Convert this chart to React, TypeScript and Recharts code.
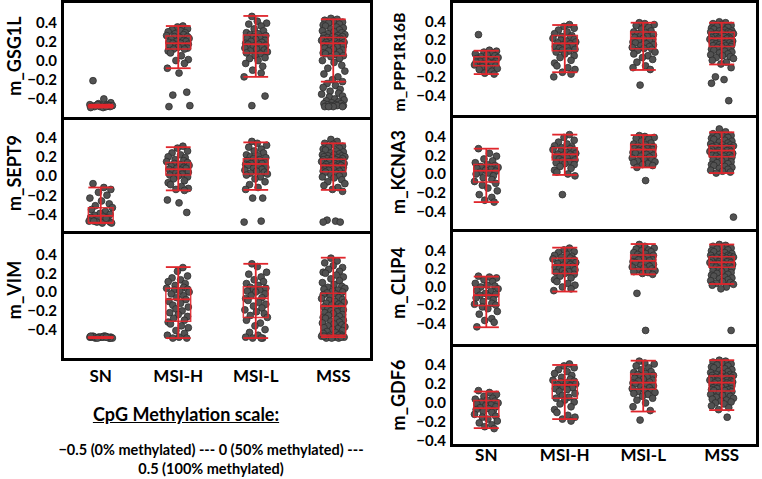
import React from 'react';
import { ComposedChart, Scatter, XAxis, YAxis, ReferenceLine, ReferenceArea } from 'recharts';

const CATEGORIES = ['SN', 'MSI-H', 'MSI-L', 'MSS'];
const Y_TICKS = [-0.4, -0.2, 0, 0.2, 0.4];
const JITTER = [-0.1, 0.04, 0.13, -0.03, 0.08, -0.14, 0.01, 0.11, -0.07, 0.15, -0.12, 0.06, -0.01, 0.12, -0.08, 0.03, -0.13, 0.09, -0.04, 0.07, -0.15, 0.12, -0.05, 0.02, 0.14, -0.09, 0.07, -0.02, 0.1, -0.12, 0.03, -0.07, 0.13, -0.03, 0.05, -0.11, 0.0, 0.12, -0.06, 0.08, -0.13];

// box stats per group: [lowWhisker, q1, median, q3, highWhisker]
const GSG1L_BOX = [[-0.49, -0.48, -0.475, -0.47, -0.46], [-0.08, 0.12, 0.18, 0.255, 0.36], [-0.17, 0.08, 0.17, 0.266, 0.465], [-0.22, 0.05, 0.18, 0.24, 0.43]];
const GSG1L_PTS = [
  [-0.21, -0.4, -0.44, -0.45, -0.46, -0.46, -0.47, -0.47, -0.47, -0.47, -0.48, -0.48, -0.48, -0.48, -0.48, -0.49, -0.49, -0.47, -0.46, -0.48],
  [0.36, 0.35, 0.33, 0.32, 0.31, 0.3, 0.29, 0.28, 0.27, 0.26, 0.25, 0.25, 0.24, 0.23, 0.22, 0.21, 0.2, 0.2, 0.19, 0.18, 0.18, 0.17, 0.16, 0.15, 0.15, 0.14, 0.13, 0.12, 0.12, 0.1, 0.08, 0.05, 0.01, 0.0, -0.03, -0.08, -0.13, -0.33, -0.36, -0.47, -0.48],
  [0.46, 0.41, 0.39, 0.38, 0.36, 0.33, 0.31, 0.29, 0.28, 0.27, 0.26, 0.25, 0.24, 0.23, 0.22, 0.21, 0.2, 0.19, 0.18, 0.17, 0.17, 0.16, 0.15, 0.14, 0.13, 0.12, 0.11, 0.1, 0.09, 0.08, 0.07, 0.05, 0.03, 0.02, 0.0, -0.03, -0.06, -0.1, -0.13, -0.17, -0.37, -0.47],
  [0.44, 0.43, 0.42, 0.41, 0.4, 0.39, 0.38, 0.37, 0.36, 0.35, 0.34, 0.33, 0.32, 0.31, 0.3, 0.29, 0.28, 0.27, 0.26, 0.26, 0.25, 0.25, 0.24, 0.24, 0.23, 0.23, 0.22, 0.22, 0.21, 0.21, 0.2, 0.2, 0.19, 0.19, 0.18, 0.18, 0.17, 0.17, 0.16, 0.16, 0.15, 0.15, 0.14, 0.13, 0.12, 0.11, 0.1, 0.09, 0.08, 0.07, 0.06, 0.05, 0.04, 0.02, 0.0, -0.02, -0.05, -0.08, -0.11, -0.14, -0.17, -0.2, -0.22, -0.24, -0.26, -0.28, -0.3, -0.32, -0.34, -0.35, -0.37, -0.38, -0.4, -0.41, -0.42, -0.43, -0.44, -0.45, -0.45, -0.46, -0.46, -0.47, -0.47, -0.47, -0.48, -0.48, -0.48, -0.48],
];

const SEPT9_BOX = [[-0.49, -0.485, -0.415, -0.33, -0.12], [-0.15, 0.01, 0.07, 0.14, 0.3], [-0.145, 0.02, 0.125, 0.18, 0.35], [-0.145, 0.045, 0.11, 0.175, 0.34]];
const SEPT9_PTS = [
  [-0.08, -0.12, -0.14, -0.17, -0.2, -0.23, -0.26, -0.29, -0.31, -0.33, -0.35, -0.37, -0.39, -0.4, -0.41, -0.42, -0.43, -0.44, -0.45, -0.46, -0.47, -0.48, -0.48, -0.49, -0.49, -0.47, -0.44],
  [0.31, 0.29, 0.26, 0.24, 0.22, 0.2, 0.19, 0.17, 0.16, 0.15, 0.14, 0.13, 0.12, 0.11, 0.1, 0.09, 0.08, 0.08, 0.07, 0.06, 0.05, 0.04, 0.03, 0.02, 0.01, 0.0, -0.01, -0.03, -0.05, -0.07, -0.09, -0.11, -0.13, -0.14, -0.15, -0.25, -0.28, -0.38],
  [0.36, 0.34, 0.32, 0.3, 0.28, 0.26, 0.24, 0.22, 0.21, 0.2, 0.19, 0.18, 0.17, 0.16, 0.15, 0.14, 0.13, 0.13, 0.12, 0.11, 0.1, 0.09, 0.08, 0.07, 0.06, 0.05, 0.04, 0.03, 0.02, 0.01, -0.01, -0.03, -0.06, -0.09, -0.12, -0.14, -0.23, -0.23, -0.47, -0.48],
  [0.38, 0.36, 0.34, 0.33, 0.31, 0.3, 0.29, 0.28, 0.27, 0.26, 0.25, 0.24, 0.23, 0.22, 0.22, 0.21, 0.21, 0.2, 0.2, 0.19, 0.19, 0.18, 0.18, 0.17, 0.17, 0.16, 0.16, 0.15, 0.15, 0.14, 0.14, 0.13, 0.13, 0.12, 0.12, 0.11, 0.11, 0.1, 0.1, 0.09, 0.09, 0.08, 0.08, 0.07, 0.07, 0.06, 0.06, 0.05, 0.05, 0.04, 0.03, 0.02, 0.01, 0.0, -0.01, -0.02, -0.04, -0.06, -0.08, -0.1, -0.12, -0.14, -0.16, -0.46, -0.47, -0.48, -0.48],
];

const VIM_BOX = [[-0.49, -0.485, -0.485, -0.48, -0.48], [-0.49, -0.31, -0.078, 0.04, 0.265], [-0.49, -0.27, -0.067, 0.057, 0.3], [-0.48, -0.46, -0.15, -0.014, 0.365]];
const VIM_PTS = [
  [-0.47, -0.47, -0.48, -0.48, -0.48, -0.48, -0.48, -0.49, -0.49, -0.49, -0.48, -0.47, -0.48, -0.49, -0.48, -0.48, -0.47, -0.48, -0.49, -0.48],
  [0.26, 0.22, 0.17, 0.15, 0.13, 0.11, 0.09, 0.07, 0.05, 0.04, 0.03, 0.02, 0.01, 0.0, -0.02, -0.04, -0.06, -0.08, -0.1, -0.12, -0.14, -0.16, -0.18, -0.2, -0.22, -0.24, -0.26, -0.28, -0.3, -0.32, -0.34, -0.36, -0.38, -0.41, -0.44, -0.46, -0.48, -0.49, -0.49],
  [0.3, 0.27, 0.21, 0.19, 0.16, 0.13, 0.11, 0.09, 0.07, 0.05, 0.04, 0.03, 0.02, 0.01, 0.0, -0.02, -0.04, -0.06, -0.07, -0.09, -0.11, -0.13, -0.15, -0.17, -0.19, -0.21, -0.23, -0.25, -0.27, -0.3, -0.33, -0.36, -0.4, -0.43, -0.46, -0.48, -0.49, -0.49, -0.49],
  [0.36, 0.33, 0.31, 0.28, 0.26, 0.24, 0.22, 0.21, 0.2, 0.18, 0.16, 0.14, 0.12, 0.1, 0.08, 0.06, 0.05, 0.04, 0.03, 0.02, 0.01, 0.0, -0.01, -0.02, -0.03, -0.04, -0.05, -0.06, -0.07, -0.08, -0.09, -0.1, -0.11, -0.12, -0.13, -0.14, -0.15, -0.16, -0.17, -0.18, -0.19, -0.2, -0.21, -0.22, -0.23, -0.24, -0.25, -0.26, -0.27, -0.28, -0.29, -0.3, -0.31, -0.32, -0.33, -0.34, -0.35, -0.36, -0.37, -0.38, -0.39, -0.4, -0.41, -0.42, -0.43, -0.44, -0.45, -0.46, -0.46, -0.47, -0.47, -0.48, -0.48, -0.48, -0.49, -0.49, -0.49, -0.48, -0.47],
];

const PPP1R16B_BOX = [[-0.17, -0.08, -0.035, 0.02, 0.085], [-0.15, 0.085, 0.165, 0.25, 0.365], [-0.125, 0.107, 0.22, 0.29, 0.39], [-0.065, 0.13, 0.22, 0.285, 0.39]];
const PPP1R16B_PTS = [
  [0.26, 0.09, 0.08, 0.07, 0.06, 0.05, 0.04, 0.03, 0.02, 0.01, 0.0, -0.01, -0.02, -0.03, -0.03, -0.04, -0.04, -0.05, -0.06, -0.06, -0.07, -0.08, -0.09, -0.1, -0.11, -0.12, -0.14, -0.16, -0.17],
  [0.37, 0.35, 0.33, 0.31, 0.29, 0.27, 0.25, 0.24, 0.23, 0.22, 0.21, 0.2, 0.19, 0.18, 0.17, 0.16, 0.15, 0.14, 0.13, 0.12, 0.11, 0.1, 0.09, 0.08, 0.07, 0.05, 0.03, 0.01, -0.02, -0.05, -0.08, -0.1, -0.12, -0.15, -0.17, -0.2],
  [0.39, 0.38, 0.37, 0.36, 0.34, 0.32, 0.3, 0.29, 0.28, 0.27, 0.26, 0.25, 0.24, 0.23, 0.22, 0.21, 0.2, 0.19, 0.18, 0.17, 0.16, 0.15, 0.14, 0.13, 0.12, 0.11, 0.1, 0.09, 0.07, 0.05, 0.03, 0.01, -0.01, -0.04, -0.08, -0.1, -0.12, -0.29],
  [0.4, 0.39, 0.38, 0.37, 0.36, 0.35, 0.34, 0.33, 0.32, 0.31, 0.3, 0.3, 0.29, 0.29, 0.28, 0.28, 0.27, 0.27, 0.26, 0.26, 0.25, 0.25, 0.24, 0.24, 0.23, 0.23, 0.22, 0.22, 0.21, 0.21, 0.2, 0.2, 0.19, 0.19, 0.18, 0.18, 0.17, 0.17, 0.16, 0.16, 0.15, 0.15, 0.14, 0.14, 0.13, 0.13, 0.12, 0.11, 0.1, 0.09, 0.08, 0.07, 0.06, 0.05, 0.04, 0.03, 0.02, 0.01, 0.0, -0.02, -0.04, -0.06, -0.1, -0.2, -0.23, -0.27, -0.46],
];

const KCNA3_BOX = [[-0.3, -0.085, 0.035, 0.1, 0.27], [-0.01, 0.15, 0.21, 0.28, 0.42], [0.07, 0.185, 0.26, 0.315, 0.415], [0.01, 0.185, 0.25, 0.3, 0.445]];
const KCNA3_PTS = [
  [0.27, 0.22, 0.19, 0.16, 0.14, 0.12, 0.1, 0.09, 0.08, 0.07, 0.06, 0.05, 0.04, 0.03, 0.02, 0.01, 0.0, -0.02, -0.04, -0.06, -0.08, -0.1, -0.12, -0.15, -0.18, -0.22, -0.25, -0.28, -0.3],
  [0.42, 0.39, 0.36, 0.34, 0.32, 0.3, 0.29, 0.28, 0.27, 0.26, 0.25, 0.24, 0.23, 0.22, 0.21, 0.21, 0.2, 0.19, 0.18, 0.17, 0.16, 0.15, 0.14, 0.13, 0.12, 0.11, 0.1, 0.08, 0.06, 0.04, 0.02, 0.0, -0.02, -0.22],
  [0.41, 0.4, 0.39, 0.38, 0.37, 0.35, 0.33, 0.32, 0.31, 0.3, 0.29, 0.28, 0.27, 0.27, 0.26, 0.26, 0.25, 0.24, 0.23, 0.22, 0.21, 0.2, 0.19, 0.18, 0.17, 0.16, 0.15, 0.14, 0.13, 0.12, 0.11, 0.1, 0.09, 0.07, -0.07],
  [0.48, 0.45, 0.43, 0.42, 0.41, 0.4, 0.39, 0.38, 0.37, 0.36, 0.35, 0.34, 0.33, 0.32, 0.31, 0.31, 0.3, 0.3, 0.29, 0.29, 0.28, 0.28, 0.27, 0.27, 0.26, 0.26, 0.25, 0.25, 0.24, 0.24, 0.23, 0.23, 0.22, 0.22, 0.21, 0.21, 0.2, 0.2, 0.19, 0.19, 0.18, 0.17, 0.16, 0.15, 0.14, 0.13, 0.12, 0.11, 0.1, 0.09, 0.08, 0.07, 0.06, 0.05, 0.04, 0.03, 0.02, 0.01, -0.46],
];

const CLIP4_BOX = [[-0.445, -0.205, -0.09, 0.0, 0.115], [-0.05, 0.15, 0.243, 0.317, 0.435], [0.14, 0.2, 0.29, 0.354, 0.475], [0.033, 0.218, 0.273, 0.335, 0.47]];
const CLIP4_PTS = [
  [0.12, 0.11, 0.1, 0.08, 0.06, 0.04, 0.02, 0.01, 0.0, -0.02, -0.04, -0.05, -0.07, -0.08, -0.09, -0.1, -0.12, -0.14, -0.16, -0.18, -0.19, -0.2, -0.22, -0.24, -0.27, -0.3, -0.35, -0.37, -0.39, -0.44],
  [0.43, 0.41, 0.39, 0.38, 0.36, 0.35, 0.34, 0.33, 0.32, 0.31, 0.3, 0.29, 0.28, 0.27, 0.26, 0.25, 0.24, 0.23, 0.22, 0.21, 0.2, 0.19, 0.18, 0.17, 0.16, 0.15, 0.14, 0.12, 0.1, 0.08, 0.06, 0.04, 0.02, 0.0, -0.02, -0.04],
  [0.47, 0.45, 0.43, 0.42, 0.41, 0.4, 0.39, 0.38, 0.37, 0.36, 0.35, 0.34, 0.33, 0.32, 0.31, 0.3, 0.3, 0.29, 0.28, 0.27, 0.26, 0.25, 0.24, 0.23, 0.22, 0.21, 0.2, 0.19, 0.18, 0.17, 0.16, 0.15, 0.14, -0.07, -0.48],
  [0.47, 0.46, 0.45, 0.44, 0.43, 0.42, 0.41, 0.4, 0.39, 0.38, 0.37, 0.36, 0.35, 0.35, 0.34, 0.34, 0.33, 0.33, 0.32, 0.32, 0.31, 0.31, 0.3, 0.3, 0.29, 0.29, 0.28, 0.28, 0.27, 0.27, 0.26, 0.26, 0.25, 0.25, 0.24, 0.24, 0.23, 0.23, 0.22, 0.22, 0.21, 0.2, 0.19, 0.18, 0.17, 0.16, 0.15, 0.14, 0.13, 0.12, 0.11, 0.1, 0.09, 0.08, 0.07, 0.06, 0.05, 0.04, 0.03, 0.02, 0.0, -0.02, -0.48],
];

const GDF6_BOX = [[-0.265, -0.145, -0.055, 0.025, 0.12], [-0.17, 0.05, 0.19, 0.24, 0.4], [-0.09, 0.144, 0.214, 0.305, 0.445], [-0.075, 0.125, 0.214, 0.285, 0.45]];
const GDF6_PTS = [
  [0.13, 0.11, 0.09, 0.07, 0.05, 0.04, 0.03, 0.02, 0.01, 0.0, -0.01, -0.02, -0.03, -0.04, -0.05, -0.06, -0.07, -0.08, -0.09, -0.1, -0.12, -0.14, -0.15, -0.17, -0.19, -0.21, -0.23, -0.25, -0.27],
  [0.41, 0.39, 0.37, 0.35, 0.33, 0.31, 0.29, 0.27, 0.25, 0.24, 0.23, 0.22, 0.21, 0.2, 0.19, 0.18, 0.17, 0.16, 0.15, 0.14, 0.12, 0.1, 0.08, 0.06, 0.05, 0.03, 0.01, -0.01, -0.04, -0.07, -0.1, -0.13, -0.15, -0.17, -0.19],
  [0.44, 0.42, 0.41, 0.39, 0.37, 0.35, 0.33, 0.32, 0.31, 0.3, 0.29, 0.28, 0.27, 0.26, 0.25, 0.24, 0.23, 0.22, 0.21, 0.2, 0.19, 0.18, 0.17, 0.16, 0.15, 0.14, 0.13, 0.12, 0.11, 0.1, 0.09, 0.07, 0.05, 0.03, 0.0, -0.04, -0.08, -0.18],
  [0.45, 0.44, 0.43, 0.42, 0.41, 0.4, 0.39, 0.38, 0.37, 0.36, 0.35, 0.34, 0.33, 0.32, 0.31, 0.3, 0.3, 0.29, 0.29, 0.28, 0.28, 0.27, 0.27, 0.26, 0.26, 0.25, 0.25, 0.24, 0.24, 0.23, 0.23, 0.22, 0.22, 0.21, 0.21, 0.2, 0.2, 0.19, 0.19, 0.18, 0.18, 0.17, 0.17, 0.16, 0.16, 0.15, 0.15, 0.14, 0.14, 0.13, 0.13, 0.12, 0.11, 0.1, 0.09, 0.08, 0.07, 0.06, 0.05, 0.04, 0.03, 0.02, 0.01, 0.0, -0.01, -0.03, -0.05, -0.07, -0.15],
];

const FONT = 'Lato, "Open Sans", sans-serif';
const RED = '#e0262c';
const HALF = 0.16;

const fmt = (v: number) => (v < 0 ? '\u2212' : '') + Math.abs(v).toFixed(1);

const Dot = (p: any) => (
  <circle cx={p.cx} cy={p.cy} r={3.4} fill="#525252" stroke="#2f2f2f" strokeWidth={0.8} />
);

function Panel(props: any) {
  const { name, box, pts, left, top, width, height, yw, margin, domain, xDomain, showX, xTickMargin, labelX, labelY, labelSize } = props;
  const data: { x: number; y: number }[] = [];
  pts.forEach((arr: number[], g: number) =>
    arr.forEach((y, i) => data.push({ x: g + JITTER[(i + g * 11) % JITTER.length], y }))
  );
  const labelFn = () => (
    <text
      x={labelX}
      y={labelY}
      transform={`rotate(-90 ${labelX} ${labelY})`}
      textAnchor="middle"
      dominantBaseline="central"
      fontSize={labelSize}
      fontWeight={700}
      fill="#000"
      fontFamily={FONT}
    >
      {name}
    </text>
  );
  const axes = (overlay: boolean) => [
    <XAxis
      key="x"
      type="number"
      dataKey="x"
      domain={xDomain}
      allowDataOverflow
      ticks={[0, 1, 2, 3]}
      tickFormatter={(i: number) => CATEGORIES[i]}
      hide={!showX}
      height={30}
      axisLine={false}
      tickLine={false}
      tickSize={0}
      tickMargin={xTickMargin}
      tick={overlay ? false : { fontSize: 17, fontWeight: 700, fill: '#000', fontFamily: FONT }}
    />,
    <YAxis
      key="y"
      type="number"
      dataKey="y"
      domain={domain}
      allowDataOverflow
      ticks={Y_TICKS}
      tickFormatter={fmt}
      width={yw}
      axisLine={false}
      tickLine={false}
      tickSize={0}
      tickMargin={5}
      interval={0}
      tick={overlay ? false : { fontSize: 15, fontWeight: 700, fill: '#000', fontFamily: FONT }}
      label={overlay ? undefined : labelFn}
    />,
  ];
  return (
    <div style={{ position: 'absolute', left, top, width, height }}>
      <div style={{ position: 'absolute', left: 0, top: 0 }}>
        <ComposedChart width={width} height={height} margin={margin}>
          {axes(false)}
          <Scatter data={data} dataKey="y" shape={Dot} isAnimationActive={false} />
        </ComposedChart>
      </div>
      <div style={{ position: 'absolute', left: 0, top: 0 }}>
        <ComposedChart width={width} height={height} margin={margin}>
          {axes(true)}
          {box.map((b: number[], g: number) => (
            <React.Fragment key={g}>
              <ReferenceLine segment={[{ x: g, y: b[0] }, { x: g, y: b[4] }]} stroke={RED} strokeWidth={1.8} />
              <ReferenceLine segment={[{ x: g - HALF, y: b[0] }, { x: g + HALF, y: b[0] }]} stroke={RED} strokeWidth={1.8} />
              <ReferenceLine segment={[{ x: g - HALF, y: b[4] }, { x: g + HALF, y: b[4] }]} stroke={RED} strokeWidth={1.8} />
              <ReferenceArea x1={g - HALF} x2={g + HALF} y1={b[1]} y2={b[3]} fill="none" fillOpacity={0} stroke={RED} strokeWidth={1.5} strokeOpacity={0.9} />
              <ReferenceLine segment={[{ x: g - HALF, y: b[2] }, { x: g + HALF, y: b[2] }]} stroke={RED} strokeWidth={1.8} />
            </React.Fragment>
          ))}
        </ComposedChart>
      </div>
    </div>
  );
}

const LX = [-0.5, 3.5];
const RX = [-0.45, 3.45];

const PANELS = [
  { name: 'm_GSG1L', box: GSG1L_BOX, pts: GSG1L_PTS, left: 0, top: 0, width: 375, height: 118, yw: 62, margin: { top: 3, right: 3, bottom: 2, left: 0 }, domain: [-0.578, 0.6], xDomain: LX, showX: false, xTickMargin: 0, labelX: 14, labelY: 56, labelSize: 18 },
  { name: 'm_SEPT9', box: SEPT9_BOX, pts: SEPT9_PTS, left: 0, top: 117, width: 375, height: 116, yw: 62, margin: { top: 3, right: 3, bottom: 2, left: 0 }, domain: [-0.573, 0.583], xDomain: LX, showX: false, xTickMargin: 0, labelX: 14, labelY: 56, labelSize: 18 },
  { name: 'm_VIM', box: VIM_BOX, pts: VIM_PTS, left: 0, top: 232, width: 375, height: 156, yw: 62, margin: { top: 2, right: 3, bottom: 0, left: 0 }, domain: [-0.702, 0.617], xDomain: LX, showX: true, xTickMargin: 12, labelX: 14, labelY: 58, labelSize: 18 },
  { name: 'm_PPP1R16B', box: PPP1R16B_BOX, pts: PPP1R16B_PTS, left: 380, top: 0, width: 380, height: 117, yw: 71, margin: { top: 3, right: 3, bottom: 2, left: 0 }, domain: [-0.616, 0.605], xDomain: RX, showX: false, xTickMargin: 0, labelX: 18, labelY: 62, labelSize: 16 },
  { name: 'm_KCNA3', box: KCNA3_BOX, pts: KCNA3_PTS, left: 380, top: 115, width: 380, height: 116, yw: 71, margin: { top: 2, right: 3, bottom: 2, left: 0 }, domain: [-0.587, 0.608], xDomain: RX, showX: false, xTickMargin: 0, labelX: 18, labelY: 57, labelSize: 18 },
  { name: 'm_CLIP4', box: CLIP4_BOX, pts: CLIP4_PTS, left: 380, top: 230, width: 380, height: 116, yw: 71, margin: { top: 2, right: 3, bottom: 2, left: 0 }, domain: [-0.63, 0.608], xDomain: RX, showX: false, xTickMargin: 0, labelX: 18, labelY: 53, labelSize: 18 },
  { name: 'm_GDF6', box: GDF6_BOX, pts: GDF6_PTS, left: 380, top: 345, width: 380, height: 129, yw: 71, margin: { top: 2, right: 3, bottom: 0, left: 0 }, domain: [-0.432, 0.589], xDomain: RX, showX: true, xTickMargin: 5, labelX: 18, labelY: 50, labelSize: 18 },
];

const bar = (left: number, top: number, width: number, height: number) => (
  <div style={{ position: 'absolute', left, top, width, height, background: '#000' }} />
);

export default function App() {
  return (
    <div style={{ position: 'absolute', left: 0, top: 0, width: 762, height: 479, background: '#fff', fontFamily: FONT, overflow: 'hidden' }}>
      {PANELS.map((p) => (
        <Panel key={p.name} {...p} />
      ))}
      {/* left frame */}
      <div style={{ position: 'absolute', left: 61, top: 0, width: 312, height: 361, border: '3px solid #000', boxSizing: 'border-box' }} />
      {bar(61, 116.5, 312, 3)}
      {bar(61, 231, 312, 3)}
      {/* right frame */}
      <div style={{ position: 'absolute', left: 450, top: 0, width: 309, height: 447, border: '3px solid #000', boxSizing: 'border-box' }} />
      {bar(450, 114.5, 309, 3)}
      {bar(450, 229, 309, 3)}
      {bar(450, 344, 309, 3)}
      <div style={{ position: 'absolute', left: 86, top: 402, width: 200, textAlign: 'center', fontSize: 18, fontWeight: 700, textDecoration: 'underline', lineHeight: '24px', color: '#000' }}>
        CpG Methylation scale:
      </div>
      <div style={{ position: 'absolute', left: 36, top: 440, width: 350, textAlign: 'center', fontSize: 14.5, fontWeight: 700, lineHeight: '19px', color: '#000' }}>
        {'\u22120.5 (0% methylated) --- 0 (50% methylated) ---'}
        <br />
        0.5 (100% methylated)
      </div>
    </div>
  );
}
